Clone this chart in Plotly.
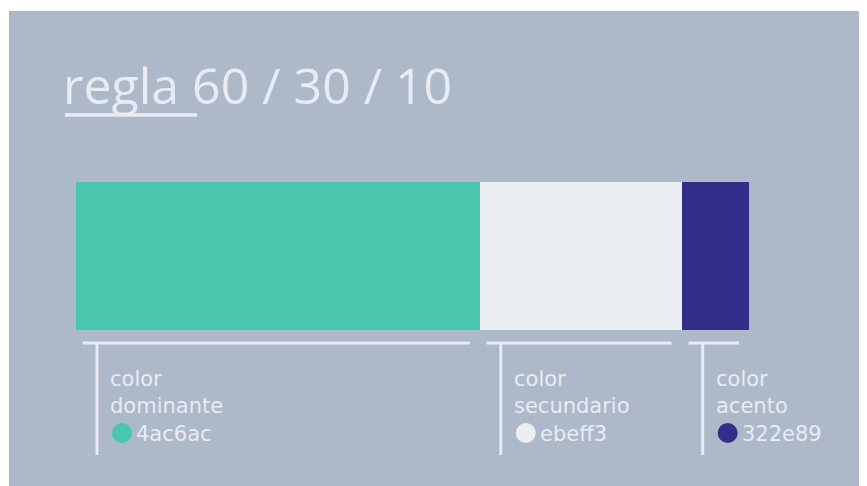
import plotly.graph_objects as go

# ---- data ----
categories = ["color dominante", "color secundario", "color acento"]
label_top = ["color", "color", "color"]
label_bottom = ["dominante", "secundario", "acento"]
values = [60, 30, 10]
hex_codes = ["4ac6ac", "ebeff3", "322e89"]
title_text = "regla 60 / 30 / 10"

BG = "#adb8c9"
TXT = "#e8ecf2"
FONT = "Open Sans"
LFONT = "DejaVu Sans"

W, H = 867, 486
OFF = 8  # page body margin
ML, MR, MT, MB = 68, 126, 174, 164
PW = W - ML - MR
PH = H - MT - MB


def px_x(sx):
    return (sx - OFF - ML) / PW


def px_y(sy):
    return (H - MB - (sy - OFF)) / PH


fig = go.Figure()
for cat, v, hx in zip(categories, values, hex_codes):
    fig.add_trace(go.Bar(
        x=[v], y=[0], orientation="h", name=cat, width=1,
        marker=dict(color="#" + hx, line=dict(width=0)),
        hoverinfo="skip", showlegend=False,
    ))

shapes = []
annotations = []

# small extra white frame at top/left
shapes.append(dict(type="rect", xref="paper", yref="paper",
                   x0=px_x(0), x1=px_x(9), y0=px_y(H + 20), y1=px_y(0),
                   fillcolor="white", line=dict(width=0), layer="above"))
shapes.append(dict(type="rect", xref="paper", yref="paper",
                   x0=px_x(0), x1=px_x(W + 20), y0=px_y(11), y1=px_y(0),
                   fillcolor="white", line=dict(width=0), layer="above"))

# title + underline
annotations.append(dict(xref="paper", yref="paper", x=px_x(61), y=px_y(85),
                        xanchor="left", yanchor="middle", showarrow=False,
                        text=title_text,
                        font=dict(family=FONT, size=50, color=TXT)))
shapes.append(dict(type="line", xref="paper", yref="paper",
                   x0=px_x(65), x1=px_x(197), y0=px_y(115), y1=px_y(115),
                   line=dict(color=TXT, width=3.5)))

# brackets and labels derived from cumulative data
start = 0
for top, bot, v, hx in zip(label_top, label_bottom, values, hex_codes):
    end = start + v
    shapes.append(dict(type="line", xref="x", yref="paper",
                       x0=start + 1.0, x1=end - 1.5,
                       y0=px_y(343), y1=px_y(343),
                       line=dict(color=TXT, width=3)))
    shapes.append(dict(type="line", xref="x", yref="paper",
                       xsizemode="pixel", xanchor=start, x0=21, x1=21,
                       y0=px_y(343), y1=px_y(455),
                       line=dict(color=TXT, width=3)))
    annotations.append(dict(xref="x", yref="paper", x=start, xshift=32,
                            y=px_y(392), xanchor="left", yanchor="middle",
                            showarrow=False, align="left",
                            text=f"{top}<br>{bot}",
                            font=dict(family=LFONT, size=21, color=TXT)))
    shapes.append(dict(type="circle", xref="x", yref="paper",
                       xsizemode="pixel", ysizemode="pixel",
                       xanchor=start, x0=36, x1=56,
                       yanchor=px_y(433), y0=-10, y1=10,
                       fillcolor="#" + hx, line=dict(width=0)))
    annotations.append(dict(xref="x", yref="paper", x=start, xshift=58,
                            y=px_y(434), xanchor="left", yanchor="middle",
                            showarrow=False, align="left", text=hx,
                            font=dict(family=LFONT, size=21, color=TXT)))
    start = end

fig.update_layout(
    width=W, height=H,
    margin=dict(l=ML, r=MR, t=MT, b=MB, pad=0),
    paper_bgcolor=BG, plot_bgcolor=BG,
    barmode="stack", bargap=0,
    xaxis=dict(range=[0, 100], visible=False, fixedrange=True),
    yaxis=dict(range=[-0.5, 0.5], visible=False, fixedrange=True),
    shapes=shapes, annotations=annotations,
    showlegend=False,
)

fig.write_html("out.html", config={"displayModeBar": False})
